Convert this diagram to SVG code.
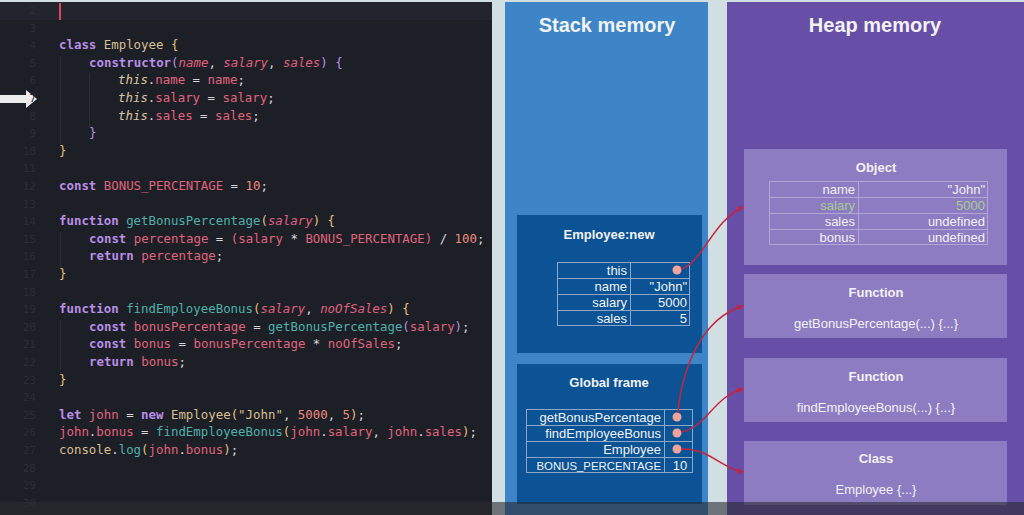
<svg xmlns="http://www.w3.org/2000/svg" width="1024" height="515" viewBox="0 0 1024 515">
<defs>
<style>
.code{font-family:"DejaVu Sans Mono","Liberation Mono",monospace;font-size:12.4px;white-space:pre;fill:#d6d6d6}
.ln{font-family:"DejaVu Sans Mono",monospace;font-size:11px;fill:#2b2e37;text-anchor:end}
.k{fill:#b98ee6;font-weight:bold}
.c{fill:#d8bf92}
.y{fill:#e5c07b}
.p{fill:#b98ee6}
.v{fill:#e0647c}
.i{fill:#e0607e;font-style:italic}
.t{fill:#d8c7a0;font-style:italic}
.f{fill:#4fb1ab}
.n{fill:#ef8a7a}
.o{fill:#d6d6d6}
.ttl{font-family:"Liberation Sans",Arial,sans-serif;font-weight:bold;fill:#f2f2f2;text-anchor:middle}
.lab{font-family:"Liberation Sans",Arial,sans-serif;font-size:13px;fill:#f2f2f2;text-anchor:end}
.mid{font-family:"Liberation Sans",Arial,sans-serif;font-size:13px;fill:#f2f2f2;text-anchor:middle}
.tb{fill:none;stroke:#8aa6c8;stroke-width:1}
.tbh{fill:none;stroke:#b3a6d6;stroke-width:1}
.dot{fill:#eea39c}
.con{fill:none;stroke:#c8243c;stroke-width:1.5}
</style>
<marker id="ah" viewBox="0 0 10 10" refX="9" refY="5" markerWidth="6" markerHeight="6" orient="auto" markerUnits="userSpaceOnUse">
<path d="M0,0 L10,5 L0,10 z" fill="#c8243c"/>
</marker>
</defs>

<rect x="0" y="0" width="1024" height="515" fill="#d1dfe3"/>

<g id="code-panel">
<rect x="0" y="2" width="492" height="513" fill="#1d1f27"/>
<rect x="0" y="2" width="492" height="18" fill="#23252e"/>
<rect x="59" y="3" width="2" height="17" fill="#e0465a"/>
<line x1="60.5" y1="56" x2="60.5" y2="144" stroke="#2a2d36"/>
<line x1="89.5" y1="73" x2="89.5" y2="127" stroke="#2a2d36"/>
<line x1="60.5" y1="232" x2="60.5" y2="267" stroke="#2a2d36"/>
<line x1="60.5" y1="320" x2="60.5" y2="373" stroke="#2a2d36"/>
<path d="M0,95 L26,95 L26,90 L37,99 L26,108 L26,103 L0,103 z" fill="#ececec"/>
<g>
<text class="ln" x="36" y="14">2</text>
<text class="ln" x="36" y="31.6">3</text>
<text class="ln" x="36" y="49.2">4</text>
<text class="ln" x="36" y="66.8">5</text>
<text class="ln" x="36" y="84.4">6</text>
<text class="ln" x="36" y="102">7</text>
<text class="ln" x="36" y="119.6">8</text>
<text class="ln" x="36" y="137.2">9</text>
<text class="ln" x="36" y="154.8">10</text>
<text class="ln" x="36" y="172.4">11</text>
<text class="ln" x="36" y="190">12</text>
<text class="ln" x="36" y="207.6">13</text>
<text class="ln" x="36" y="225.2">14</text>
<text class="ln" x="36" y="242.8">15</text>
<text class="ln" x="36" y="260.4">16</text>
<text class="ln" x="36" y="278">17</text>
<text class="ln" x="36" y="295.6">18</text>
<text class="ln" x="36" y="313.2">19</text>
<text class="ln" x="36" y="330.8">20</text>
<text class="ln" x="36" y="348.4">21</text>
<text class="ln" x="36" y="366">22</text>
<text class="ln" x="36" y="383.6">23</text>
<text class="ln" x="36" y="401.2">24</text>
<text class="ln" x="36" y="418.8">25</text>
<text class="ln" x="36" y="436.4">26</text>
<text class="ln" x="36" y="454">27</text>
<text class="ln" x="36" y="471.6">28</text>
<text class="ln" x="36" y="489.2">29</text>
<text class="ln" x="36" y="506.8">30</text>
</g>
<text class="code" x="59" y="49.2"><tspan class="k">class</tspan> <tspan class="c">Employee</tspan> <tspan class="y">{</tspan></text>
<text class="code" x="89" y="66.8"><tspan class="k">constructor</tspan><tspan class="p">(</tspan><tspan class="i">name</tspan><tspan class="o">, </tspan><tspan class="i">salary</tspan><tspan class="o">, </tspan><tspan class="i">sales</tspan><tspan class="p">) {</tspan></text>
<text class="code" x="118" y="84.4"><tspan class="t">this</tspan><tspan class="o">.</tspan><tspan class="v">name</tspan><tspan class="o"> = </tspan><tspan class="v">name</tspan><tspan class="o">;</tspan></text>
<text class="code" x="118" y="102"><tspan class="t">this</tspan><tspan class="o">.</tspan><tspan class="v">salary</tspan><tspan class="o"> = </tspan><tspan class="v">salary</tspan><tspan class="o">;</tspan></text>
<text class="code" x="118" y="119.6"><tspan class="t">this</tspan><tspan class="o">.</tspan><tspan class="v">sales</tspan><tspan class="o"> = </tspan><tspan class="v">sales</tspan><tspan class="o">;</tspan></text>
<text class="code" x="89" y="137.2"><tspan class="p">}</tspan></text>
<text class="code" x="59" y="154.8"><tspan class="y">}</tspan></text>
<text class="code" x="59" y="190"><tspan class="k">const</tspan> <tspan class="v">BONUS_PERCENTAGE</tspan><tspan class="o"> = </tspan><tspan class="n">10</tspan><tspan class="o">;</tspan></text>
<text class="code" x="59" y="225.2"><tspan class="k">function</tspan> <tspan class="f">getBonusPercentage</tspan><tspan class="y">(</tspan><tspan class="i">salary</tspan><tspan class="y">) {</tspan></text>
<text class="code" x="89" y="242.8"><tspan class="k">const</tspan> <tspan class="v">percentage</tspan><tspan class="o"> = </tspan><tspan class="v">(salary</tspan><tspan class="o"> * </tspan><tspan class="v">BONUS_PERCENTAGE)</tspan><tspan class="o"> / </tspan><tspan class="n">100</tspan><tspan class="o">;</tspan></text>
<text class="code" x="89" y="260.4"><tspan class="k">return</tspan> <tspan class="v">percentage</tspan><tspan class="o">;</tspan></text>
<text class="code" x="59" y="278"><tspan class="y">}</tspan></text>
<text class="code" x="59" y="313.2"><tspan class="k">function</tspan> <tspan class="f">findEmployeeBonus</tspan><tspan class="y">(</tspan><tspan class="i">salary</tspan><tspan class="o">, </tspan><tspan class="i">noOfSales</tspan><tspan class="y">) {</tspan></text>
<text class="code" x="89" y="330.8"><tspan class="k">const</tspan> <tspan class="v">bonusPercentage</tspan><tspan class="o"> = </tspan><tspan class="f">getBonusPercentage</tspan><tspan class="p">(</tspan><tspan class="v">salary</tspan><tspan class="p">)</tspan><tspan class="o">;</tspan></text>
<text class="code" x="89" y="348.4"><tspan class="k">const</tspan> <tspan class="v">bonus</tspan><tspan class="o"> = </tspan><tspan class="v">bonusPercentage</tspan><tspan class="o"> * </tspan><tspan class="v">noOfSales</tspan><tspan class="o">;</tspan></text>
<text class="code" x="89" y="366"><tspan class="k">return</tspan> <tspan class="v">bonus</tspan><tspan class="o">;</tspan></text>
<text class="code" x="59" y="383.6"><tspan class="y">}</tspan></text>
<text class="code" x="59" y="418.8"><tspan class="k">let</tspan> <tspan class="v">john</tspan><tspan class="o"> = </tspan><tspan class="k">new</tspan> <tspan class="c">Employee</tspan><tspan class="y">(</tspan><tspan class="c">"John"</tspan><tspan class="o">, </tspan><tspan class="n">5000</tspan><tspan class="o">, </tspan><tspan class="n">5</tspan><tspan class="y">)</tspan><tspan class="o">;</tspan></text>
<text class="code" x="59" y="436.4"><tspan class="v">john</tspan><tspan class="o">.</tspan><tspan class="v">bonus</tspan><tspan class="o"> = </tspan><tspan class="f">findEmployeeBonus</tspan><tspan class="y">(</tspan><tspan class="v">john</tspan><tspan class="o">.</tspan><tspan class="v">salary</tspan><tspan class="o">, </tspan><tspan class="v">john</tspan><tspan class="o">.</tspan><tspan class="v">sales</tspan><tspan class="y">)</tspan><tspan class="o">;</tspan></text>
<text class="code" x="59" y="454"><tspan class="c">console</tspan><tspan class="o">.</tspan><tspan class="f">log</tspan><tspan class="y">(</tspan><tspan class="v">john</tspan><tspan class="o">.</tspan><tspan class="v">bonus</tspan><tspan class="y">)</tspan><tspan class="o">;</tspan></text>
</g>

<g id="stack-memory">
<rect x="505" y="2" width="203" height="513" fill="#3d85c6"/>
<text class="ttl" x="607" y="32" font-size="20">Stack memory</text>
</g>

<g id="heap-memory">
<rect x="727" y="2" width="297" height="513" fill="#674ea7"/>
<text class="ttl" x="875" y="32" font-size="20">Heap memory</text>
</g>

<g id="employee-new-frame">
<rect x="517" y="215" width="185" height="138" fill="#0b5394"/>
<text class="ttl" x="609" y="239" font-size="13">Employee:new</text>
<rect class="tb" x="557.5" y="262.5" width="132" height="63"/>
<line class="tb" x1="630.5" y1="262" x2="630.5" y2="326"/>
<line class="tb" x1="557" y1="278.5" x2="690" y2="278.5"/>
<line class="tb" x1="557" y1="294.5" x2="690" y2="294.5"/>
<line class="tb" x1="557" y1="310.5" x2="690" y2="310.5"/>
<text class="lab" x="627" y="275">this</text>
<circle class="dot" cx="677" cy="270" r="4.5"/>
<text class="lab" x="627" y="291">name</text>
<text class="lab" x="687" y="291">"John"</text>
<text class="lab" x="627" y="307">salary</text>
<text class="lab" x="687" y="307">5000</text>
<text class="lab" x="627" y="323">sales</text>
<text class="lab" x="687" y="323">5</text>
</g>

<g id="global-frame">
<rect x="517" y="364" width="185" height="140" fill="#0b5394"/>
<text class="ttl" x="609" y="387" font-size="13">Global frame</text>
<rect class="tb" x="526.5" y="409.5" width="166" height="63"/>
<line class="tb" x1="664.5" y1="409" x2="664.5" y2="473"/>
<line class="tb" x1="526" y1="425.5" x2="693" y2="425.5"/>
<line class="tb" x1="526" y1="441.5" x2="693" y2="441.5"/>
<line class="tb" x1="526" y1="457.5" x2="693" y2="457.5"/>
<text class="lab" x="661" y="422">getBonusPercentage</text>
<circle class="dot" cx="677" cy="417" r="4.5"/>
<text class="lab" x="661" y="438">findEmployeeBonus</text>
<circle class="dot" cx="677" cy="433" r="4.5"/>
<text class="lab" x="661" y="454">Employee</text>
<circle class="dot" cx="677" cy="449" r="4.5"/>
<text class="lab" x="661" y="470" style="font-size:11.4px">BONUS_PERCENTAGE</text>
<text class="mid" x="680" y="470">10</text>
</g>

<g id="heap-object">
<rect x="744" y="149" width="263" height="116" fill="#8e7cc3"/>
<text class="ttl" x="876" y="172" font-size="13">Object</text>
<rect class="tbh" x="769.5" y="181.5" width="218" height="63"/>
<line class="tbh" x1="858.5" y1="181" x2="858.5" y2="245"/>
<line class="tbh" x1="769" y1="197.5" x2="988" y2="197.5"/>
<line class="tbh" x1="769" y1="213.5" x2="988" y2="213.5"/>
<line class="tbh" x1="769" y1="229.5" x2="988" y2="229.5"/>
<text class="lab" x="855" y="194">name</text>
<text class="lab" x="985" y="194">"John"</text>
<text class="lab" x="855" y="210" style="fill:#a6cc8c">salary</text>
<text class="lab" x="985" y="210" style="fill:#a6cc8c">5000</text>
<text class="lab" x="855" y="226">sales</text>
<text class="lab" x="985" y="226">undefined</text>
<text class="lab" x="855" y="242">bonus</text>
<text class="lab" x="985" y="242">undefined</text>
</g>

<g id="heap-fn-getbonus">
<rect x="744" y="274" width="263" height="64" fill="#8e7cc3"/>
<text class="ttl" x="876" y="297" font-size="13">Function</text>
<text class="mid" x="876" y="328">getBonusPercentage(...) {...}</text>
</g>

<g id="heap-fn-findbonus">
<rect x="744" y="358" width="263" height="64" fill="#8e7cc3"/>
<text class="ttl" x="876" y="381" font-size="13">Function</text>
<text class="mid" x="876" y="412">findEmployeeBonus(...) {...}</text>
</g>

<g id="heap-class">
<rect x="744" y="441" width="263" height="64" fill="#8e7cc3"/>
<text class="ttl" x="876" y="463" font-size="13">Class</text>
<text class="mid" x="876" y="494">Employee {...}</text>
</g>

<g id="connectors">
<path class="con" d="M681,269 C703,262 712,222 743,207" marker-end="url(#ah)"/>
<path class="con" d="M678,413 C682,368 702,318 743,306" marker-end="url(#ah)"/>
<path class="con" d="M681,432 C706,428 714,396 743,389" marker-end="url(#ah)"/>
<path class="con" d="M681,449 C710,448 720,468 743,472" marker-end="url(#ah)"/>
</g>

<rect x="0" y="502" width="1024" height="13" fill="#2a2c30" opacity="0.6"/>
</svg>
